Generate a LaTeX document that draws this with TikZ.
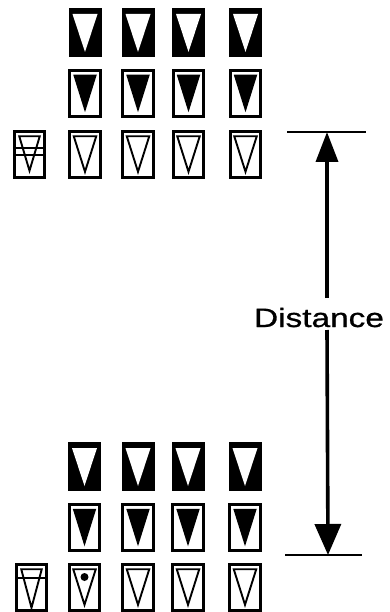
\documentclass[tikz,border=0pt]{standalone}
\usepackage{fontspec}
\setmainfont{Liberation Sans}
\newfontfamily\distfont{Liberation Sans}[FakeBold=0.8]
\usetikzlibrary{arrows.meta}
\begin{document}
\begin{tikzpicture}[x=1pt,y=-1pt,
  sigblack/.style={rectangle, inner sep=0pt, fill=black, minimum width=33pt, minimum height=49pt,
    path picture={\fill[white] ([xshift=4pt,yshift=-6pt]path picture bounding box.north west) -- ([xshift=-4pt,yshift=-6pt]path picture bounding box.north east) -- ([yshift=5pt]path picture bounding box.south) -- cycle;}},
  sigfill/.style={rectangle, inner sep=0pt, draw=black, line width=2.6pt, minimum width=30.5pt, minimum height=46.5pt,
    path picture={\fill[black] ([xshift=3.5pt,yshift=-4.5pt]path picture bounding box.north west) -- ([xshift=-3.5pt,yshift=-4.5pt]path picture bounding box.north east) -- ([yshift=4.5pt]path picture bounding box.south) -- cycle;}},
  sigopen/.style={rectangle, inner sep=0pt, draw=black, line width=2.6pt, minimum width=30.5pt, minimum height=46.5pt,
    path picture={\draw[line width=1.9pt, line join=miter] ([xshift=4pt,yshift=-5pt]path picture bounding box.north west) -- ([xshift=-4pt,yshift=-5pt]path picture bounding box.north east) -- ([yshift=6pt]path picture bounding box.south) -- cycle;}},
  sigbarA/.style={rectangle, inner sep=0pt, draw=black, line width=2.6pt, minimum width=30.5pt, minimum height=46.5pt,
    path picture={\draw[line width=1.9pt] ([xshift=5pt,yshift=-5pt]path picture bounding box.north west) -- ([xshift=-5pt,yshift=-5pt]path picture bounding box.north east) -- ([yshift=7pt]path picture bounding box.south) -- cycle;
      \draw[line width=2.4pt] ([yshift=-17pt]path picture bounding box.north west) -- ([yshift=-17pt]path picture bounding box.north east);
      \draw[line width=2.4pt] ([yshift=-24pt]path picture bounding box.north west) -- ([yshift=-24pt]path picture bounding box.north east);}},
  sigbarB/.style={rectangle, inner sep=0pt, draw=black, line width=2.6pt, minimum width=30.5pt, minimum height=46.5pt,
    path picture={\draw[line width=1.9pt] ([xshift=5pt,yshift=-5pt]path picture bounding box.north west) -- ([xshift=-5pt,yshift=-5pt]path picture bounding box.north east) -- ([yshift=3pt]path picture bounding box.south) -- cycle;
      \draw[line width=2.4pt] ([yshift=-14pt]path picture bounding box.north west) -- ([yshift=-14pt]path picture bounding box.north east);}},
  bar/.style={line width=2.7pt},
  shaft/.style={line width=3.6pt},
  uptip/.style={shaft, -{Triangle[width=22pt,length=30pt]}},
  downtip/.style={shaft, -{Triangle[width=26pt,length=31pt]}},
  lbl/.style={font=\distfont\fontsize{26.5}{30}\selectfont, inner sep=0pt}
]
\useasboundingbox (0,0) rectangle (390,612);
% top group
\node[sigblack] (t11) at (85,32.5) {};
\node[sigblack] (t12) at (138,32.5) {};
\node[sigblack] (t13) at (188.5,32.5) {};
\node[sigblack] (t14) at (245.5,32.5) {};
\node[sigfill] (t21) at (85,93.5) {};
\node[sigfill] (t22) at (138,93.5) {};
\node[sigfill] (t23) at (188.5,93.5) {};
\node[sigfill] (t24) at (245.5,93.5) {};
\node[sigbarA] (t30) at (29.5,154.5) {};
\node[sigopen] (t31) at (85,154.5) {};
\node[sigopen] (t32) at (138,154.5) {};
\node[sigopen] (t33) at (188.5,154.5) {};
\node[sigopen] (t34) at (245.5,154.5) {};
% bottom group
\node[sigblack] (b11) at (84.5,466.5) {};
\node[sigblack] (b12) at (138,466.5) {};
\node[sigblack] (b13) at (188,466.5) {};
\node[sigblack] (b14) at (245,466.5) {};
\node[sigfill] (b21) at (84.5,527.5) {};
\node[sigfill] (b22) at (138,527.5) {};
\node[sigfill] (b23) at (188,527.5) {};
\node[sigfill] (b24) at (245,527.5) {};
\node[sigbarB] (b30) at (31.5,587.5) {};
\node[sigopen] (b31) at (84.5,587.5) {};
\node[sigopen] (b32) at (138,587.5) {};
\node[sigopen] (b33) at (188,587.5) {};
\node[sigopen] (b34) at (245,587.5) {};
\fill (84.5,577) circle (4);
% distance marker
\node[lbl, anchor=base] (dist) at (319,327) {\scalebox{1.26}[1]{Distance}};
\coordinate (tb1) at (287,132);
\coordinate (tb2) at (366,132);
\coordinate (bb1) at (285,555);
\coordinate (bb2) at (362,555);
\coordinate (ttip) at (327,132);
\coordinate (btip) at (328,555);
\coordinate (s1) at (327,298);
\coordinate (s2) at (327,330);
\draw[bar] (tb1) -- (tb2);
\draw[bar] (bb1) -- (bb2);
\draw[uptip] (s1) -- (ttip);
\draw[downtip] (s2) -- (btip);
\end{tikzpicture}
\end{document}
